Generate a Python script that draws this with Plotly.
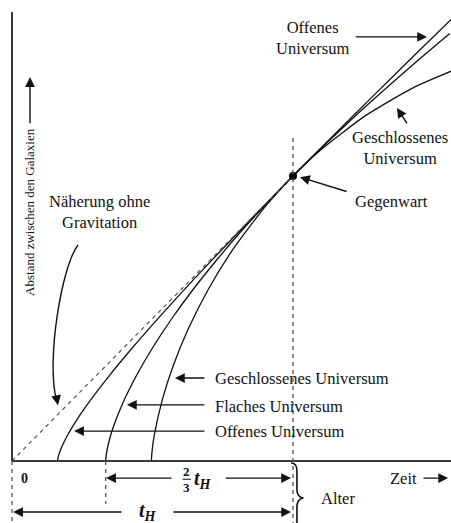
import plotly.graph_objects as go

# Time in units of the Hubble time t_H, distance relative to today's value (today = 1)
open_t = [0.162, 0.1654, 0.1736, 0.190, 0.2182, 0.2625, 0.3444, 0.4218, 0.5225,
          0.6517, 0.8159, 1.0, 1.1457, 1.2828, 1.4358, 1.5712]
open_a = [0.0, 0.018, 0.0416, 0.0766, 0.1253, 0.1907, 0.2972, 0.3895, 0.5031,
          0.6425, 0.8134, 1.0, 1.144, 1.2785, 1.427, 1.5575]

flat_t = [0.3333, 0.3352, 0.3408, 0.354, 0.393, 0.443, 0.502, 0.569, 0.643,
          0.724, 0.810, 0.903, 1.0, 1.210, 1.438, 1.558]
flat_a = [0.0, 0.02, 0.05, 0.1, 0.2, 0.3, 0.4, 0.5, 0.6,
          0.7, 0.8, 0.9, 1.0, 1.2, 1.4, 1.5]

closed_t = [0.496, 0.4982, 0.506, 0.5365, 0.5737, 0.6274, 0.6993, 0.7904,
            0.9011, 1.0, 1.1024, 1.2581, 1.4286, 1.564]
closed_a = [0.0, 0.0325, 0.089, 0.2206, 0.3343, 0.4637, 0.6037, 0.7485,
            0.8926, 1.0, 1.0944, 1.2119, 1.3099, 1.368]

# Expansion without gravity: straight line through the origin and today
nograv_t = [0.0, 1.0]
nograv_a = [0.0, 1.0]

today_t = [1.0]
today_a = [1.0]

X_MIN, X_MAX = -0.0427, 1.5623
Y_MIN, Y_MAX = -0.2175, 1.6175

FONT = "Liberation Serif"
INK = "#111111"
GREY = "#555555"
LABEL = 16.5

fig = go.Figure()

curve_style = dict(color=INK, width=1.3, shape="spline", smoothing=0.6)
for t, a, name in [(open_t, open_a, "Offenes Universum"),
                   (flat_t, flat_a, "Flaches Universum"),
                   (closed_t, closed_a, "Geschlossenes Universum")]:
    fig.add_trace(go.Scatter(x=t, y=a, mode="lines", line=curve_style,
                             name=name, hoverinfo="skip"))

fig.add_trace(go.Scatter(x=nograv_t, y=nograv_a, mode="lines",
                         line=dict(color=GREY, width=1.2, dash="4px,4px"),
                         name="Näherung ohne Gravitation", hoverinfo="skip"))

fig.add_trace(go.Scatter(x=today_t, y=today_a, mode="markers",
                         marker=dict(color="black", size=8),
                         name="Gegenwart", hoverinfo="skip"))

shapes = []
# axes
shapes.append(dict(type="line", x0=0, y0=0, x1=X_MAX, y1=0,
                   line=dict(color="#3a3a3a", width=2)))
shapes.append(dict(type="line", x0=0, y0=0, x1=0, y1=1.575,
                   line=dict(color="#3a3a3a", width=2)))
# dashed guides
dash_line = dict(color=GREY, width=1.3, dash="4px,4px")
shapes.append(dict(type="line", x0=1, y0=1.133, x1=1, y1=Y_MIN, line=dash_line))
shapes.append(dict(type="line", x0=0, y0=0, x1=0, y1=Y_MIN, line=dash_line))
shapes.append(dict(type="line", x0=1/3, y0=0, x1=1/3, y1=-0.15, line=dash_line))
# curved pointer to the no-gravity line
shapes.append(dict(type="path",
                   path="M 0.235,0.758 C 0.178,0.688 0.121,0.354 0.158,0.215",
                   line=dict(color=INK, width=1.4)))
# brace next to the age arrows
shapes.append(dict(type="path",
                   path="M 0.993,-0.007 Q 1.014,-0.007 1.014,-0.035 L 1.014,-0.100 "
                        "Q 1.014,-0.126 1.037,-0.130 Q 1.014,-0.134 1.014,-0.160 L 1.014,-0.25",
                   line=dict(color=INK, width=1.6)))
# fraction bar of 2/3
shapes.append(dict(type="line", x0=0.607, y0=-0.064, x1=0.637, y1=-0.064,
                   line=dict(color=INK, width=1)))

ann = []


def text(x, y, s, size=LABEL, xanchor="center", **kw):
    ann.append(dict(x=x, y=y, text=s, showarrow=False, xanchor=xanchor,
                    yanchor="middle", font=dict(family=FONT, size=size, color=INK), **kw))


def arrow(x_head, y_head, x_tail, y_tail):
    ann.append(dict(x=x_head, y=y_head, ax=x_tail, ay=y_tail, axref="x", ayref="y",
                    text="", showarrow=True, arrowhead=2, arrowsize=1.4,
                    arrowwidth=1.4, arrowcolor=INK, standoff=0, startstandoff=0))


text(1.068, 1.484, "Offenes<br>Universum")
arrow(1.477, 1.488, 1.218, 1.488)

text(1.381, 1.098, "Geschlossenes<br>Universum")
arrow(1.370, 1.239, 1.409, 1.179)

text(1.352, 0.912, "Gegenwart")
arrow(1.025, 0.996, 1.196, 0.944)

text(0.313, 0.874, "Näherung ohne<br>Gravitation")
arrow(0.164, 0.196, 0.158, 0.225)

text(0.715, 0.291, "Geschlossenes Universum", xanchor="left")
arrow(0.580, 0.291, 0.690, 0.291)
text(0.715, 0.193, "Flaches Universum", xanchor="left")
arrow(0.409, 0.197, 0.690, 0.197)
text(0.715, 0.102, "Offenes Universum", xanchor="left")
arrow(0.221, 0.105, 0.690, 0.105)

# y axis title
text(0.064, 0.874, "Abstand zwischen den Galaxien", size=13, textangle=-90)
arrow(0.064, 1.347, 0.064, 1.180)

# below the time axis
text(0.046, -0.060, "<b>0</b>", size=14)
text(0.622, -0.036, "<b>2</b>", size=13)
text(0.622, -0.093, "<b>3</b>", size=13)
text(0.642, -0.064, "<b><i>t</i></b><sub><b><i>H</i></b></sub>", size=20, xanchor="left")
arrow(0.335, -0.060, 0.573, -0.060)
arrow(0.993, -0.060, 0.755, -0.060)

text(0.484, -0.176, "<b><i>t</i></b><sub><b><i>H</i></b></sub>", size=20)
arrow(0.004, -0.179, 0.395, -0.179)
arrow(0.993, -0.179, 0.569, -0.179)

text(1.093, -0.130, "Alter", xanchor="left")
text(1.338, -0.060, "Zeit", xanchor="left")
arrow(1.552, -0.060, 1.459, -0.060)

fig.update_layout(
    width=451, height=523, autosize=False,
    margin=dict(l=0, r=0, t=0, b=0, pad=0),
    paper_bgcolor="white", plot_bgcolor="white",
    showlegend=False,
    xaxis=dict(range=[X_MIN, X_MAX], visible=False, fixedrange=True),
    yaxis=dict(range=[Y_MIN, Y_MAX], visible=False, fixedrange=True),
    shapes=shapes, annotations=ann,
)

fig.write_html("out.html")
